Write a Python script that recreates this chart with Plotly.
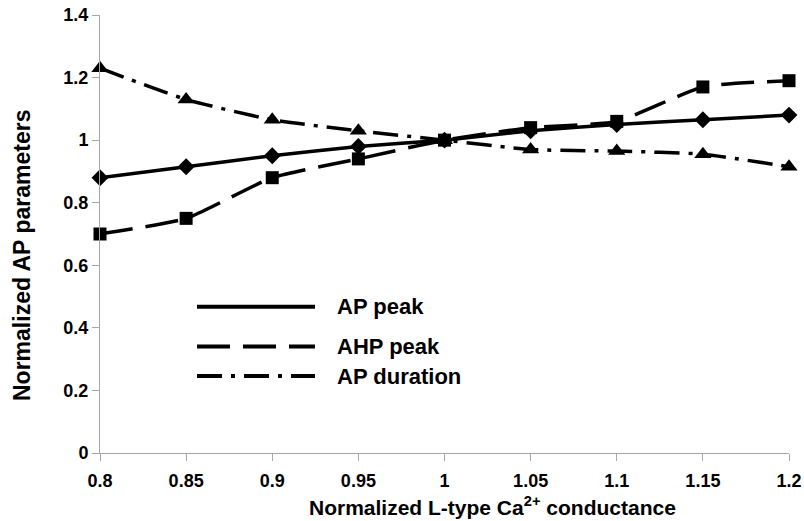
import plotly.graph_objects as go

x_vals = [0.8, 0.85, 0.9, 0.95, 1.0, 1.05, 1.1, 1.15, 1.2]
ap_peak = [0.88, 0.915, 0.95, 0.98, 1.0, 1.03, 1.05, 1.065, 1.08]
ahp_peak = [0.70, 0.75, 0.88, 0.94, 1.0, 1.04, 1.06, 1.17, 1.19]
ap_duration = [1.23, 1.13, 1.065, 1.03, 1.0, 0.97, 0.965, 0.955, 0.915]
series_names = ["AP peak", "AHP peak", "AP duration"]
x_ticks = [0.8, 0.85, 0.9, 0.95, 1.0, 1.05, 1.1, 1.15, 1.2]
x_tick_text = ["0.8", "0.85", "0.9", "0.95", "1", "1.05", "1.1", "1.15", "1.2"]
y_ticks = [0, 0.2, 0.4, 0.6, 0.8, 1.0, 1.2, 1.4]
y_tick_text = ["0", "0.2", "0.4", "0.6", "0.8", "1", "1.2", "1.4"]

FONT = "Liberation Sans, Arial, sans-serif"
dashes = ["solid", "33px,13px", "25px,9px,4px,9px"]
symbols = ["diamond", "square", "triangle-up"]
sizes = [13, 13, 15]

# body margin is removed by post_script so the figure fills the 804x521 window
W, H = 804, 521
L, T, R, B = 100, 15, 15, 68
PW, PH = W - L - R, H - T - B

def sx(px):
    return (px - L) / PW

def sy(py):
    return (H - B - py) / PH

fig = go.Figure()
for name, ys, d, s, sz in zip(series_names, [ap_peak, ahp_peak, ap_duration], dashes, symbols, sizes):
    fig.add_trace(go.Scatter(
        x=x_vals, y=ys, name=name, mode="lines+markers",
        line=dict(color="black", width=3.5, dash=d, shape="spline", smoothing=0.5),
        marker=dict(symbol=s, size=sz, color="black"),
        showlegend=False, cliponaxis=False,
    ))

# Manual legend (long line samples)
for name, d, yr in zip(series_names, dashes, [306.7, 346.5, 376]):
    fig.add_shape(type="line", xref="paper", yref="paper",
                  x0=sx(197), x1=sx(315), y0=sy(yr), y1=sy(yr),
                  line=dict(color="black", width=4, dash=d))
    fig.add_annotation(xref="paper", yref="paper", x=sx(335), y=sy(yr),
                       text=name, showarrow=False, xanchor="left", yanchor="middle",
                       font=dict(family=FONT, size=22, color="black", weight="bold"))

# Axis titles
fig.add_annotation(xref="paper", yref="paper", x=sx(492), y=sy(506),
                   text="Normalized L-type Ca<sup>2+</sup> conductance", showarrow=False,
                   xanchor="center", yanchor="middle",
                   font=dict(family=FONT, size=21, color="black", weight="bold"))
fig.add_annotation(xref="paper", yref="paper", x=sx(22), y=sy(256),
                   text="Normalized AP parameters", showarrow=False, textangle=-90,
                   xanchor="center", yanchor="middle",
                   font=dict(family=FONT, size=23, color="black", weight="bold"))

axis_common = dict(
    showgrid=False, zeroline=False, showline=True, linecolor="#a6a6a6", linewidth=1,
    ticks="outside", tickcolor="#a6a6a6", ticklen=7, automargin=False,
    ticklabeloverflow="allow",
    tickfont=dict(family=FONT, size=18, color="black", weight="bold"),
)
fig.update_xaxes(range=[0.8, 1.2], tickvals=x_ticks, ticktext=x_tick_text,
                 ticklabelstandoff=4, **axis_common)
fig.update_yaxes(range=[0, 1.4], tickvals=y_ticks, ticktext=y_tick_text, **axis_common)
fig.update_layout(
    width=W, height=H,
    margin=dict(l=L, r=R, t=T, b=B),
    plot_bgcolor="white", paper_bgcolor="white",
)
fig.write_html("out.html", config={"displayModeBar": False},
               post_script="document.body.style.margin='0px';document.body.style.overflow='hidden';")
